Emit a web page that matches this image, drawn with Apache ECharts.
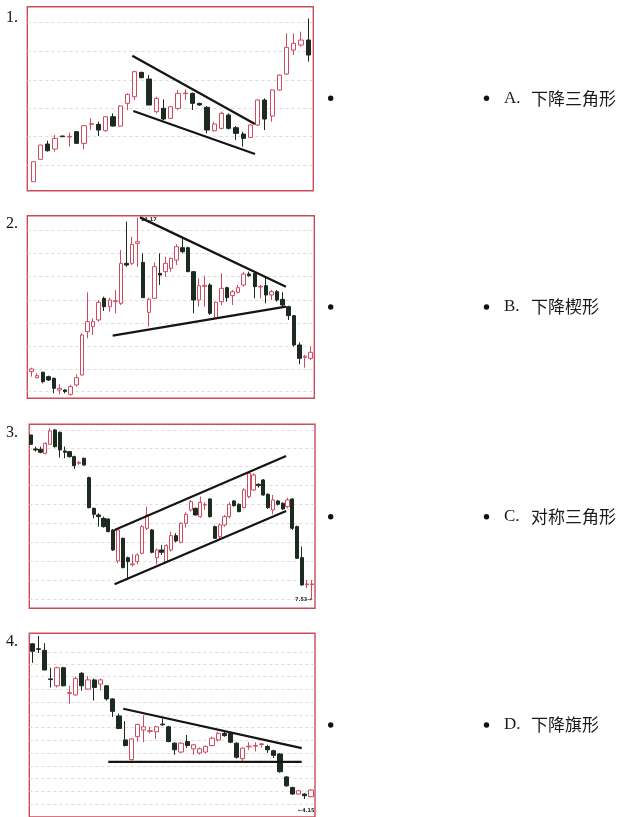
<!DOCTYPE html>
<html><head><meta charset="utf-8">
<script src="https://cdn.jsdelivr.net/npm/echarts@6/dist/echarts.min.js"></script>
<style>html,body{margin:0;padding:0;background:#fff;overflow:hidden}#c{width:619px;height:817px}</style>
</head><body><div id="c"></div>
<script>
// ---------- DATA ----------
// candles: [open, close, low, high]
const p1Candles = [
[5.5,11.5,5.5,11.5],[12.2,16.5,12.2,16.5],[16.8,14.8,14.5,17.8],[15.3,18.5,14.5,19.5],[19.2,19.0,18.9,19.3],
[18.9,19.1,16.0,20.2],[20.5,17.0,16.8,20.7],[17.0,22.3,15.2,22.5],[22.7,22.9,21.0,24.5],[22.7,21.0,19.2,23.5],
[20.8,25.0,20.5,25.2],[25.0,22.2,22.0,26.0],[22.2,28.2,22.0,28.5],[29.0,31.7,27.0,32.0],[31.0,38.5,30.0,38.8],
[38.3,36.7,36.5,38.5],[36.3,28.5,28.5,37.5],[26.5,30.5,26.0,31.0],[27.5,24.3,24.0,30.2],[24.5,28.0,24.3,28.2],
[27.5,32.0,27.0,33.0],[31.9,32.1,30.0,33.2],[32.0,29.0,27.0,32.2],[29.0,28.5,28.3,29.2],[27.8,21.0,20.0,28.2],
[20.8,22.8,20.5,23.5],[21.5,26.0,21.2,26.5],[25.5,21.5,21.2,26.0],[21.7,20.0,18.0,22.2],[19.8,18.5,16.0,20.5],
[18.8,22.5,18.6,22.7],[22.5,30.0,22.2,30.2],[30.0,24.3,21.0,30.5],[25.2,33.0,23.5,33.2],[33.0,37.5,32.8,37.7],
[37.8,45.8,37.5,50.0],[45.0,47.0,43.5,50.0],[46.5,48.0,46.0,50.5],[48.0,43.5,41.5,54.5]
];
const p1Upper = [[13.68,43.3],[30.63,22.8]];
const p1Lower = [[13.82,26.7],[30.63,13.8]];
const p1GridVals = [53.2,44.5,36.0,27.5,19.0,10.5];

const p2Candles = [
[10.0,10.8,8.5,11.2],[8.2,8.8,8.0,9.5],[9.8,7.0,6.5,10.0],[8.5,7.5,7.2,8.8],[8.0,5.0,3.5,8.2],
[4.5,5.0,3.2,6.2],[4.5,4.0,3.5,4.7],[3.2,5.5,2.8,6.0],[6.0,8.2,5.5,9.2],[9.0,21.0,8.8,21.5],
[22.0,25.0,20.0,33.8],[23.5,25.0,21.0,26.0],[25.5,30.8,25.0,31.5],[32.0,29.5,28.2,32.5],[29.5,31.5,28.0,32.2],
[31.0,31.3,27.5,34.5],[30.5,42.5,30.0,46.5],[42.5,42.0,41.5,55.0],[42.5,48.2,42.0,50.5],[48.5,49.0,41.5,56.2],
[42.8,32.2,32.2,45.5],[27.8,31.7,23.5,32.2],[32.0,41.5,31.8,42.8],[39.5,39.0,36.0,45.5],[40.0,42.5,38.5,44.5],
[41.0,44.0,40.0,44.2],[43.5,47.5,42.0,48.2],[47.2,46.0,45.5,50.2],[47.2,40.0,40.0,47.5],[40.0,31.5,27.5,40.2],
[31.5,35.8,29.5,38.0],[35.6,35.9,29.5,38.8],[36.0,27.5,27.0,36.5],[26.0,30.8,25.8,31.0],[31.0,35.0,30.0,39.5],
[35.2,32.2,31.0,35.5],[32.8,34.0,30.0,34.5],[33.8,35.2,33.5,36.0],[36.0,39.3,35.5,40.0],[39.3,38.8,38.5,40.0],
[39.5,35.5,32.0,40.0],[35.4,35.6,32.0,36.0],[35.8,33.0,30.5,38.2],[33.0,34.0,31.5,34.5],[34.0,31.5,31.0,34.5],
[31.7,30.0,29.5,33.8],[29.5,26.8,25.5,29.8],[26.8,18.0,17.5,27.0],[18.0,14.0,12.2,18.8],[14.3,14.6,11.2,15.0],
[14.0,15.8,13.5,17.5]
];
const p2Upper = [[19.41,56.3],[45.58,35.5]];
const p2Lower = [[14.52,20.8],[45.58,29.5]];
const p2GridVals = [52.5,45.5,38.5,31.5,24.6,17.7,10.8,4.0];

const p3Candles = [
[54.0,51.2,51.0,54.0],[49.8,49.5,49.0,50.5],[49.7,48.8,48.5,50.5],[48.5,51.5,48.2,51.8],[51.2,55.2,51.0,56.0],
[55.5,50.5,50.2,55.8],[54.8,49.5,47.2,55.0],[49.2,48.8,47.0,50.5],[49.0,47.5,47.2,49.2],[47.5,44.8,43.8,47.8],
[45.5,45.8,45.0,46.2],[47.0,45.0,44.8,47.2],[41.2,32.2,32.0,41.5],[32.0,30.2,29.0,32.2],[30.0,29.5,26.5,30.5],
[29.0,26.5,26.2,29.5],[28.8,25.0,24.8,29.0],[25.5,19.5,19.2,25.8],[16.2,25.5,15.5,25.8],[23.0,14.2,14.0,23.2],
[17.2,16.0,11.0,17.5],[15.1,15.3,14.5,18.2],[16.0,18.0,15.2,18.5],[18.5,26.5,18.2,27.0],[26.0,30.0,25.5,32.5],
[25.5,18.8,18.5,25.8],[17.2,19.5,15.2,20.0],[19.5,18.8,18.0,21.0],[16.0,20.8,15.8,21.2],[19.5,23.8,19.0,25.0],
[23.8,22.2,21.8,24.5],[21.8,27.5,21.5,27.8],[27.5,30.2,26.2,30.8],[31.5,34.0,31.0,34.5],[32.0,30.0,29.8,32.2],
[29.5,33.8,29.2,35.5],[33.0,33.2,31.5,33.8],[34.8,29.5,29.2,35.0],[26.5,23.0,22.8,26.8],[23.5,27.0,22.8,27.5],
[27.0,29.5,26.5,30.0],[29.5,33.2,29.0,33.8],[34.2,32.8,32.5,34.5],[33.2,31.0,30.8,33.5],[32.2,37.5,32.0,38.0],
[35.5,42.5,35.0,43.0],[37.5,42.0,37.2,42.5],[39.2,38.8,38.2,39.5],[40.5,36.0,35.8,40.8],[36.2,32.2,31.8,36.5],
[31.5,34.5,30.2,36.0],[34.2,33.2,32.8,34.5],[33.5,31.8,31.5,33.8],[32.5,34.5,32.0,35.2],[34.8,26.0,25.5,35.0],
[26.5,17.0,16.8,26.8],[17.2,9.0,8.8,20.5],[9.1,9.3,8.0,10.5],[9.1,9.3,4.5,10.5]
];
const p3Upper = [[17.30,25.5],[52.71,47.7]];
const p3Lower = [[17.30,9.2],[52.71,31.2]];
const p3GridVals = [55.5,50.0,44.5,38.8,33.2,27.5,21.8,16.0,10.3,4.8];

const p4Candles = [
[52.8,50.5,47.0,53.0],[51.3,51.1,50.0,55.2],[50.8,44.8,44.8,53.0],[42.1,41.9,39.5,45.5],[40.0,45.5,39.5,45.8],
[45.5,40.0,39.8,45.8],[37.7,37.9,34.5,40.0],[37.2,42.2,37.0,42.8],[43.8,40.0,38.5,44.2],[39.0,41.8,38.8,43.0],
[41.8,39.5,35.5,42.2],[40.5,41.8,38.5,42.2],[40.0,36.0,35.5,40.2],[36.0,32.2,30.5,36.2],[30.8,27.0,26.8,31.5],
[23.5,21.8,21.5,29.2],[17.5,23.8,17.2,24.0],[24.5,28.2,23.0,28.5],[26.5,27.5,22.8,31.0],[26.1,26.3,25.5,27.5],
[26.0,27.5,23.8,27.8],[28.3,28.1,27.8,30.0],[27.5,23.0,22.8,27.8],[22.5,20.5,19.0,22.8],[19.8,22.5,19.5,22.8],
[23.0,21.8,21.0,25.0],[20.8,22.0,19.0,22.2],[19.5,20.8,19.0,21.2],[19.8,21.5,19.5,21.8],[21.8,24.0,21.5,24.5],
[23.5,25.5,23.0,26.0],[25.5,24.8,24.5,26.0],[25.5,22.8,22.5,26.0],[22.5,18.2,17.8,22.8],[17.8,21.0,17.0,21.2],
[21.4,21.6,20.5,22.8],[21.6,21.8,20.0,22.8],[22.1,22.3,21.2,22.5],[21.5,20.5,19.5,22.0],[20.2,18.8,18.0,20.5],
[19.2,13.8,13.5,19.5],[12.2,9.5,9.2,12.5],[9.0,7.0,6.8,9.2],[7.0,8.0,6.8,8.2],[7.0,6.5,5.5,7.2],
[6.2,8.2,6.0,8.5]
];
const p4Upper = [[14.69,33.0],[43.49,21.0]];
const p4Lower = [[12.27,16.8],[43.49,16.8]];
const p4GridVals = [50.3,46.5,42.8,39.0,35.0,31.0,27.5,23.5,19.5,15.5,11.8,8.0,4.0];

const panelLabels = ['1.','2.','3.','4.'];
const answerLetters = ['A.','B.','C.','D.'];
const answerNames = ['下降三角形','下降楔形','对称三角形','下降旗形'];
const priceTags = ['', '11.17', '7.53→', '←4.15'];

// ---------- LAYOUT ----------
const panels = [
  {candles:p1Candles, lines:[p1Upper,p1Lower], gridVals:p1GridVals, rect:{left:27.3,top:6.7,width:286,height:184}, x:[-0.83,38.69], y:[2.8,58.0], bw:4.7, labelY:18, rowY:98.3, tag:null},
  {candles:p2Candles, lines:[p2Upper,p2Lower], gridVals:p2GridVals, rect:{left:27.3,top:215.7,width:287,height:182.6}, x:[-0.78,50.66], y:[2.0,56.8], bw:4.0, labelY:224, rowY:307, tag:{x:141,y:220}},
  {candles:p3Candles, lines:[p3Upper,p3Lower], gridVals:p3GridVals, rect:{left:29.3,top:424.3,width:285.7,height:184}, x:[-0.3,58.68], y:[2.0,57.2], bw:3.7, labelY:433, rowY:516.7, tag:{x:295,y:599.5}},
  {candles:p4Candles, lines:[p4Upper,p4Lower], gridVals:p4GridVals, rect:{left:29.3,top:633.3,width:285.7,height:186.7}, x:[-0.48,45.64], y:[0,56.0], bw:4.7, labelY:642, rowY:725, tag:{x:298,y:811}}
];

const option = {backgroundColor:'#ffffff', animation:false, grid:[], xAxis:[], yAxis:[], series:[], graphic:[]};
panels.forEach((p,i)=>{
  option.grid.push(Object.assign({show:true, borderColor:'#cc4a5a', borderWidth:1.4, backgroundColor:'transparent'}, p.rect));
  option.xAxis.push({type:'value', gridIndex:i, min:p.x[0], max:p.x[1], show:false});
  option.yAxis.push({type:'value', gridIndex:i, min:p.y[0], max:p.y[1], show:false});
  option.series.push({
    type:'candlestick', xAxisIndex:i, yAxisIndex:i, barWidth:p.bw, z:3,
    data:p.candles.map((c,k)=>[k].concat(c)),
    encode:{x:0, y:[1,2,3,4]},
    itemStyle:{color:'#ffffff', color0:'#1c2a1f', borderColor:'#d04a60', borderColor0:'#1c2a1f', borderWidth:1},
    markLine:{silent:true, z:1, symbol:['none','none'], animation:false, label:{show:false},
      lineStyle:{color:'#dcdcdc', type:[3,3], width:1},
      data:p.gridVals.map(v=>({yAxis:v}))}
  });
  p.lines.forEach(l=>option.series.push({type:'line', xAxisIndex:i, yAxisIndex:i, data:l, symbol:'none', z:10,
    lineStyle:{color:'#151515', width:2.3}}));
  option.graphic.push({type:'text', x:6, y:p.labelY, style:{text:panelLabels[i], font:'16px "Liberation Serif"', fill:'#111', align:'left', verticalAlign:'middle'}});
  option.graphic.push({type:'circle', shape:{cx:330.7, cy:p.rowY, r:2.7}, style:{fill:'#111'}});
  option.graphic.push({type:'circle', shape:{cx:486.5, cy:p.rowY, r:2.7}, style:{fill:'#111'}});
  option.graphic.push({type:'text', x:504, y:p.rowY, style:{text:answerLetters[i], font:'17px "Liberation Serif"', fill:'#1a1a1a', align:'left', verticalAlign:'middle'}});
  option.graphic.push({type:'text', x:531, y:p.rowY, style:{text:answerNames[i], font:'17px "Noto Sans CJK SC"', fill:'#1a1a1a', align:'left', verticalAlign:'middle'}});
  if (p.tag) option.graphic.push({type:'text', x:p.tag.x, y:p.tag.y, z:20, style:{text:priceTags[i], font:'bold 5px "DejaVu Sans"', fill:'#222', align:'left', verticalAlign:'middle'}});
});

const chart = echarts.init(document.getElementById('c'), null, {renderer:'canvas'});
chart.setOption(option);
</script></body></html>
